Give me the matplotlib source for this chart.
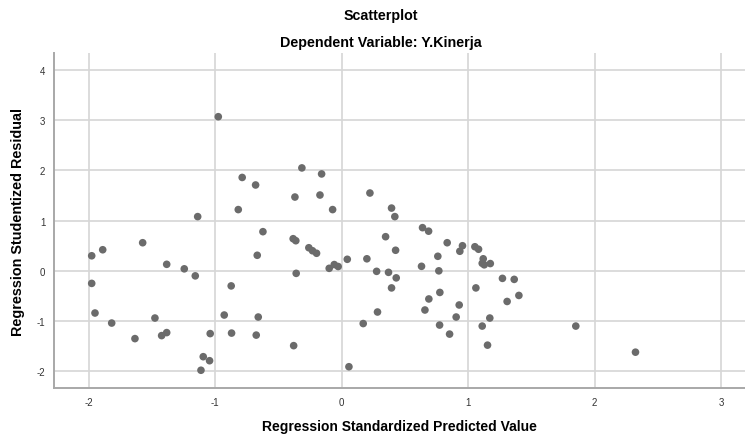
import matplotlib.pyplot as plt

# standardized predicted value (x) and studentized residual (y)
pred = [
    -0.975, -0.786, -0.680, -0.817, -1.138, -1.573, -1.889, -1.976, -1.383, -1.244,
    -1.157, -1.976, -1.950, -1.818, -1.634, -1.476, -1.423, -1.383, -1.039, -1.094,
    -1.044, -1.112, -0.873, -0.928, -0.870, -0.675, -0.659, -0.667, -0.622, -0.314,
    -0.158, -0.369, -0.171, -0.071, -0.383, -0.362, -0.259, -0.230, -0.198, -0.359,
    -0.098, -0.058, -0.027, 0.045, 0.200, 0.224, 0.395, 0.421, 0.348, 0.427,
    0.277, 0.371, 0.432, 0.395, 0.284, 0.171, 0.058, -0.379, 0.640, 0.688,
    0.835, 0.956, 0.935, 1.054, 1.083, 0.761, 0.632, 0.769, 1.120, 1.112,
    1.128, 1.176, 1.062, 0.777, 0.690, 0.659, 0.930, 0.906, 0.775, 0.854,
    1.172, 1.112, 1.154, 1.272, 1.365, 1.402, 1.309, 1.852, 2.324,
]
resid = [
    3.07, 1.86, 1.71, 1.22, 1.08, 0.56, 0.42, 0.30, 0.13, 0.04,
    -0.10, -0.25, -0.84, -1.04, -1.35, -0.94, -1.29, -1.23, -1.25, -1.71,
    -1.79, -1.98, -0.30, -0.88, -1.24, -1.28, -0.92, 0.31, 0.78, 2.05,
    1.93, 1.47, 1.51, 1.22, 0.64, 0.60, 0.46, 0.40, 0.35, -0.05,
    0.05, 0.125, 0.086, 0.23, 0.24, 1.55, 1.25, 1.08, 0.68, 0.41,
    -0.01, -0.03, -0.14, -0.34, -0.82, -1.05, -1.91, -1.49, 0.86, 0.79,
    0.56, 0.50, 0.39, 0.48, 0.43, 0.29, 0.09, 0.00, 0.24, 0.15,
    0.12, 0.145, -0.34, -0.43, -0.56, -0.78, -0.68, -0.92, -1.08, -1.26,
    -0.94, -1.10, -1.48, -0.15, -0.17, -0.49, -0.61, -1.10, -1.62,
]
x_ticks = [-2, -1, 0, 1, 2, 3]
y_ticks = [-2, -1, 0, 1, 2, 3, 4]


def main():
    plt.rcParams.update({"font.family": "Liberation Sans", "axes.unicode_minus": False})

    fig = plt.figure(figsize=(7.45, 4.35), dpi=100)
    ax = fig.add_axes([0.072, 0.105, 0.928, 0.771])

    ax.scatter(pred, resid, s=30, color="#6b6b6b", edgecolors="none", zorder=3)

    ax.set_xlim(-2.277, 3.19)
    ax.set_ylim(-2.34, 4.34)
    ax.set_xticks(x_ticks)
    ax.set_yticks(y_ticks)
    ax.tick_params(length=0, labelsize=7, colors="#333333", pad=6)
    ax.grid(True, color="#d6d6d6", linewidth=1.2, zorder=0)

    for side in ("top", "right"):
        ax.spines[side].set_visible(False)
    for side in ("left", "bottom"):
        ax.spines[side].set_color("#a8a8a8")
        ax.spines[side].set_linewidth(1.4)

    ax.set_xlabel("Regression Standardized Predicted Value", fontsize=10,
                  fontweight="bold", va="center")
    ax.set_ylabel("Regression Studentized Residual", fontsize=10.4,
                  fontweight="bold", va="center")
    ax.xaxis.set_label_coords(0.5, -0.112)
    ax.yaxis.set_label_coords(-0.052, 0.5)

    fig.text(0.511, 0.963, "Scatterplot", ha="center", va="center",
             fontsize=10.3, fontweight="bold")
    fig.text(0.511, 0.901, "Dependent Variable: Y.Kinerja", ha="center",
             va="center", fontsize=10.3, fontweight="bold")

    fig.savefig("out.png", dpi=100)


if __name__ == "__main__":
    main()
